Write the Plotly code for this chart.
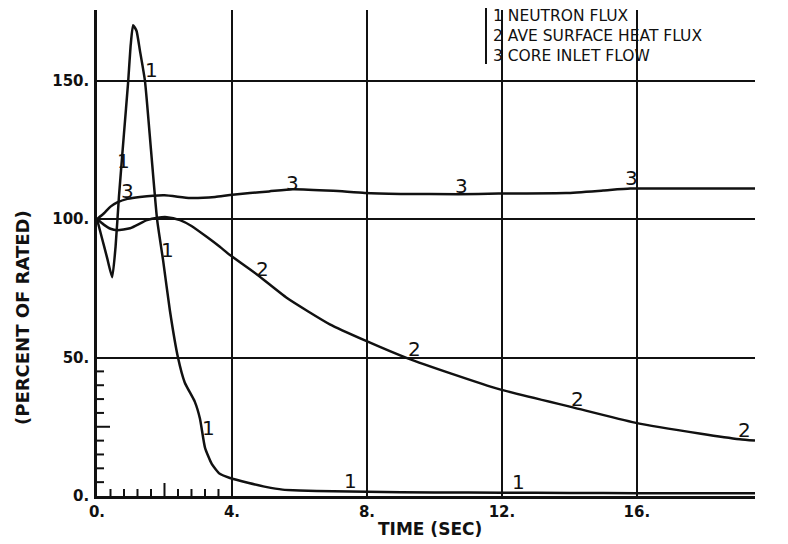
import plotly.graph_objects as go

# ---- data ----
t_flux = [0, 0.15, 0.3, 0.45, 0.55, 0.65, 0.8, 0.92, 1.0, 1.07, 1.17, 1.27, 1.42, 1.6, 1.78,
          1.96, 2.16, 2.4, 2.6, 2.9, 3.05, 3.2, 3.4, 3.64, 3.94, 4.5, 5.0, 5.5, 6.0, 7.0,
          8.0, 10.0, 12.0, 14.0, 16.0, 18.0, 19.5]
neutron_flux = [100, 93, 86, 79, 90, 108, 131, 149, 163, 170, 168, 161, 150, 125, 100,
                85, 67, 50, 41, 34, 28, 17.5, 11.6, 8, 6.5, 4.7, 3.3, 2.3, 2.0, 1.7,
                1.5, 1.3, 1.2, 1.1, 1.0, 1.0, 1.0]

t_heat = [0, 0.2, 0.4, 0.6, 0.98, 1.48, 1.8, 2.07, 2.46, 2.8, 3.26, 3.64, 3.94, 4.74, 5.63,
          6.9, 7.94, 9.19, 10.5, 11.94, 14.1, 15.94, 17.9, 19.05, 19.5]
heat_flux = [100, 98, 96.5, 96, 96.7, 99.6, 100.5, 100.7, 99.6, 97.5, 93.5, 90, 87, 80, 71.5,
             62, 56.2, 49.8, 44.2, 38.5, 32, 26.5, 22.5, 20.5, 20]

t_flow = [0, 0.2, 0.4, 0.6, 0.9, 1.27, 2.0, 2.76, 3.5, 3.94, 4.53, 5.1, 5.8, 7.0, 7.94, 9.0,
          10.7, 11.9, 13.9, 15.0, 15.8, 17.5, 19.5]
inlet_flow = [100, 102, 104.5, 106, 107.3, 108, 108.6, 107.6, 108.0, 108.7, 109.4, 110, 110.8,
              110.2, 109.4, 109.1, 109, 109.2, 109.4, 110.3, 111, 111, 111]

# curve number labels along the curves
lab1_t = [0.8, 1.62, 2.1, 3.3, 7.5, 12.5]
lab1_v = [121, 154, 89, 24.5, 5.5, 5]
lab2_t = [4.9, 9.4, 14.25, 19.2]
lab2_v = [82, 53, 35, 24]
lab3_t = [0.9, 5.8, 10.8, 15.85]
lab3_v = [110, 113, 112, 115]

x_ticks = [0, 4, 8, 12, 16]
x_ticktext = ["0.", "4.", "8.", "12.", "16."]
y_ticks = [0, 50, 100, 150]
y_ticktext = ["0.", "50.", "100.", "150."]

x_minor = [0.4, 0.8, 1.2, 1.6, 2.0, 2.4, 2.8, 3.2, 3.6]
y_minor = [5, 10, 15, 20, 25, 30, 35, 40, 45]

legend_lines = ["1 NEUTRON FLUX", "2 AVE SURFACE HEAT FLUX", "3 CORE INLET FLOW"]

FONT = "DejaVu Sans"
BLACK = "#111111"

# page offset of the plotly div (browser body margin)
OFF = 8
PL, PR, PT, PB = 97, 755, 10, 496      # plot area in page pixels
W, H = 788 - OFF, 544 - OFF
PW, PH = PR - PL, PB - PT


def px(xp):
    return (xp - PL) / PW


def py(yp):
    return (PB - yp) / PH


fig = go.Figure()
for tt, vv in [(t_flux, neutron_flux), (t_heat, heat_flux), (t_flow, inlet_flow)]:
    fig.add_trace(go.Scatter(x=tt, y=vv, mode="lines",
                             line=dict(color=BLACK, width=2.5, shape="spline", smoothing=0.5),
                             showlegend=False, hoverinfo="skip"))

anns = []
for lt, lv, txt in [(lab1_t, lab1_v, "1"), (lab2_t, lab2_v, "2"), (lab3_t, lab3_v, "3")]:
    for a, b in zip(lt, lv):
        anns.append(dict(x=a, y=b, text=txt, showarrow=False,
                         font=dict(family=FONT, size=20, color=BLACK)))

anns.append(dict(xref="paper", yref="paper", x=px(491), y=py(36),
                 text="<br>".join(legend_lines), showarrow=False, align="left",
                 xanchor="left", yanchor="middle",
                 font=dict(family=FONT, size=15.5, color=BLACK)))

anns.append(dict(xref="paper", yref="paper", x=px(430), y=py(529),
                 text="TIME (SEC)", showarrow=False, yanchor="middle",
                 font=dict(family=FONT, size=17, color=BLACK, weight="bold")))
anns.append(dict(xref="paper", yref="paper", x=px(22), y=py(318),
                 text="(PERCENT OF RATED)", showarrow=False, textangle=-90,
                 xanchor="center", yanchor="middle",
                 font=dict(family=FONT, size=18, color=BLACK, weight="bold")))

shapes = []
for xm in x_minor:
    h = 13 if xm == 2.0 else 7
    shapes.append(dict(type="line", xref="x", yref="y", ysizemode="pixel", yanchor=0,
                       x0=xm, x1=xm, y0=0, y1=h, line=dict(color=BLACK, width=2)))
for ym in y_minor:
    w = 13 if ym == 25 else 7
    shapes.append(dict(type="line", xref="x", yref="y", xsizemode="pixel", xanchor=0,
                       y0=ym, y1=ym, x0=0, x1=w, line=dict(color=BLACK, width=2)))
# bar at left of the legend block
shapes.append(dict(type="line", xref="paper", yref="paper", x0=px(486), x1=px(486),
                   y0=py(8), y1=py(64), line=dict(color=BLACK, width=2)))

fig.update_layout(
    width=W, height=H,
    margin=dict(l=PL - OFF, r=W - (PR - OFF), t=PT - OFF, b=H - (PB - OFF), autoexpand=False),
    paper_bgcolor="white", plot_bgcolor="white",
    annotations=anns, shapes=shapes,
    xaxis=dict(range=[0, 19.5], tickvals=x_ticks, ticktext=x_ticktext, automargin=False,
               showgrid=True, gridcolor=BLACK, gridwidth=2, zeroline=False,
               showline=True, linecolor=BLACK, linewidth=2.5, ticks="",
               tickfont=dict(family=FONT, size=15, color=BLACK, weight="bold")),
    yaxis=dict(range=[0, 175.5], tickvals=y_ticks, ticktext=y_ticktext, automargin=False,
               showgrid=True, gridcolor=BLACK, gridwidth=2, zeroline=False,
               showline=True, linecolor=BLACK, linewidth=2.5, ticks="",
               ticklabelstandoff=2,
               tickfont=dict(family=FONT, size=15, color=BLACK, weight="bold")),
)

fig.write_html("out.html")
